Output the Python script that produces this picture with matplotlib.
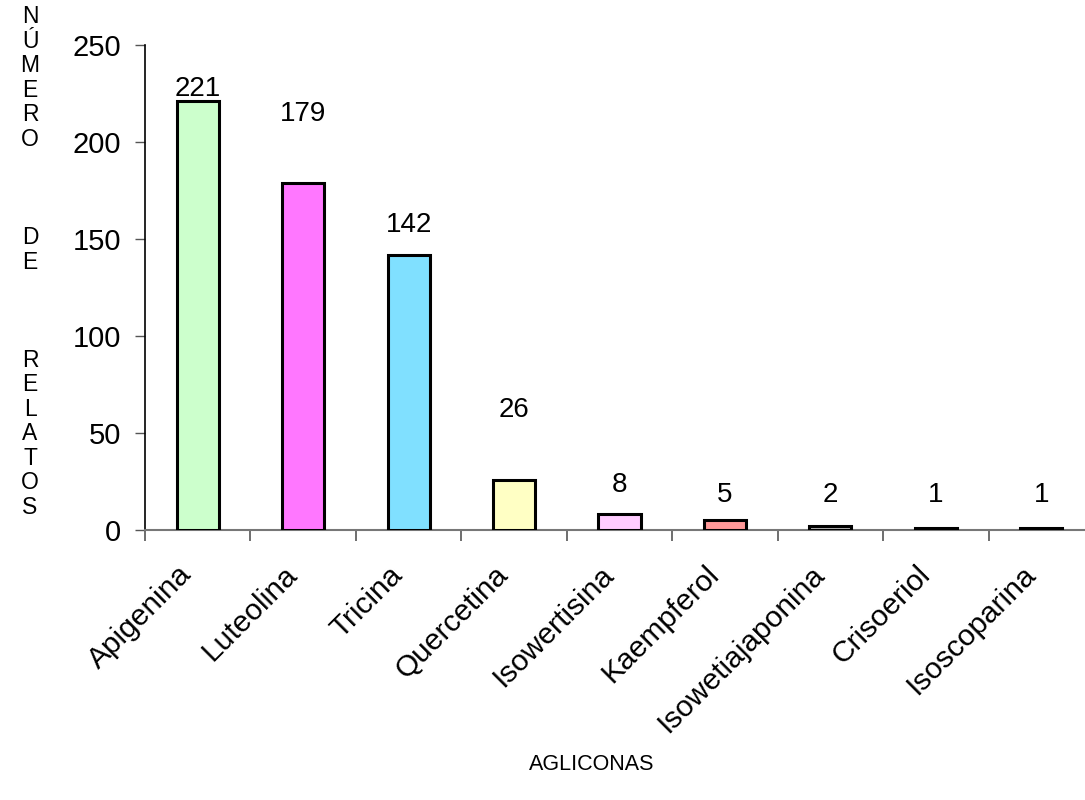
import matplotlib
matplotlib.use("Agg")
import matplotlib.pyplot as plt
from matplotlib.transforms import ScaledTranslation

# Aglycones and number of reports
categories = ["Apigenina", "Luteolina", "Tricina", "Quercetina", "Isowertisina",
              "Kaempferol", "Isowetiajaponina", "Crisoeriol", "Isoscoparina"]
values = [221, 179, 142, 26, 8, 5, 2, 1, 1]
y_ticks = [0, 50, 100, 150, 200, 250]

# Bar fills
colors = ["#CCFFCC", "#FF77FF", "#80E0FF", "#FFFFC4", "#FFCCFF",
          "#FF9999", "#B0B0B0", "#202020", "#202020"]
# Height of each value label's centre above its bar
label_offsets = [6.5, 35.5, 15, 36, 15, 13, 16, 17, 17]

plt.rcParams["font.family"] = ["Liberation Sans", "DejaVu Sans"]

fig = plt.figure(figsize=(10.85, 8.0), dpi=100)
ax = fig.add_axes([145 / 1085, 270 / 800, 949 / 1085, 485 / 800])

x = list(range(len(categories)))
ax.bar(x, values, width=0.40, color=colors, edgecolor="black", linewidth=2.2,
       zorder=3)

for xi, v, off in zip(x, values, label_offsets):
    ax.text(xi, v + off, str(v), ha="center", va="center", fontsize=20,
            color="black")

ax.set_xlim(-0.5, len(categories) - 0.5)
ax.set_ylim(0, 250)
ax.set_yticks(y_ticks)
ax.tick_params(axis="y", direction="out", length=7, width=1, labelsize=21,
               pad=10, color="#555555")

# Category ticks sit on the boundaries between bars
ax.set_xticks([i + 0.5 for i in x[:-1]] + [-0.5], minor=True)
ax.set_xticks(x)
ax.set_xticklabels(categories, rotation=45, ha="right", rotation_mode="anchor",
                   fontsize=21.5)
ax.tick_params(axis="x", which="major", length=0, pad=22)
ax.tick_params(axis="x", which="minor", direction="out", length=8, width=1.2,
               color="#555555")
shift = ScaledTranslation(-0.20, 0.0, fig.dpi_scale_trans)
for lbl in ax.get_xticklabels():
    lbl.set_transform(lbl.get_transform() + shift)

for side in ["top", "right"]:
    ax.spines[side].set_visible(False)
ax.spines["left"].set_color("black")
ax.spines["left"].set_linewidth(1.2)
ax.spines["bottom"].set_color("#777777")
ax.spines["bottom"].set_linewidth(1.5)

ylabel = "\n".join("NÚMERO   DE   RELATOS")
fig.text(30 / 1085, 1 - 262 / 800, ylabel, ha="center", va="center",
         fontsize=16.5, linespacing=1.085)
fig.text(592 / 1085, 1 - 765 / 800, "AGLICONAS", ha="center", va="center",
         fontsize=15.5)

fig.savefig("out.png", dpi=100)
